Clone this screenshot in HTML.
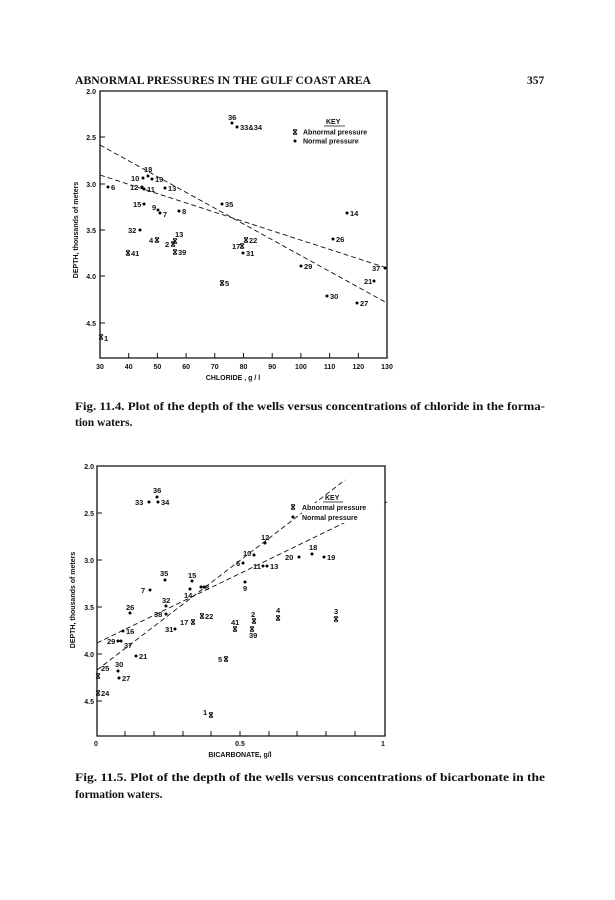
<!DOCTYPE html>
<html><head><meta charset="utf-8"><style>
html,body{margin:0;padding:0;background:#fff;}
svg{display:block;}
.s{font-family:"Liberation Sans",sans-serif;font-size:7.5px;fill:#111;font-weight:bold;}
.t{font-family:"Liberation Sans",sans-serif;font-size:7px;fill:#111;font-weight:bold;}
.f{font-family:"Liberation Serif",serif;font-size:11.5px;fill:#111;font-weight:bold;}
.ax{stroke:#111;stroke-width:1.3;fill:none;}
.d{stroke:#111;stroke-width:0.9;stroke-dasharray:5,3;fill:none;}
</style></head><body>
<svg width="615" height="900" viewBox="0 0 615 900" xmlns="http://www.w3.org/2000/svg">
<defs>
<g id="x"><path d="M-2,-2L2,2M2,-2L-2,2M-2,-2.2H2M-2,2.2H2" stroke="#111" stroke-width="1" fill="none"/></g>
</defs>
<text class="f" x="75" y="84" textLength="296" lengthAdjust="spacingAndGlyphs">ABNORMAL PRESSURES IN THE GULF COAST AREA</text>
<text class="f" x="527" y="84">357</text>

<!-- Chart 1 -->
<path class="ax" d="M100,91H387V358H100Z"/>
<g stroke="#111" stroke-width="1">
<path d="M100,137h5M100,184h5M100,230h5M100,276h5M100,323h5"/>
<path d="M128.7,358v-5M157.4,358v-5M186.1,358v-5M214.8,358v-5M243.5,358v-5M272.2,358v-5M300.9,358v-5M329.6,358v-5M358.3,358v-5"/>
</g>
<g class="t" text-anchor="end">
<text x="96" y="94">2.0</text><text x="96" y="140">2.5</text><text x="96" y="187">3.0</text>
<text x="96" y="233">3.5</text><text x="96" y="279">4.0</text><text x="96" y="326">4.5</text>
</g>
<g class="t" text-anchor="middle">
<text x="100" y="369">30</text><text x="128.7" y="369">40</text><text x="157.4" y="369">50</text>
<text x="186.1" y="369">60</text><text x="214.8" y="369">70</text><text x="243.5" y="369">80</text>
<text x="272.2" y="369">90</text><text x="300.9" y="369">100</text><text x="329.6" y="369">110</text>
<text x="358.3" y="369">120</text><text x="387" y="369">130</text>
<text x="233" y="380">CHLORIDE , g / l</text>
</g>
<text class="t" transform="translate(78,230) rotate(-90)" text-anchor="middle">DEPTH, thousands of meters</text>
<path class="d" d="M100,145L387,303"/>
<path class="d" d="M100,175L387,268"/>
<text class="t" x="326" y="124">KEY</text><path d="M324,126H345" stroke="#111" stroke-width="0.8"/>
<use href="#x" x="295" y="132"/><text class="t" x="303" y="134.5">Abnormal pressure</text>
<circle cx="295" cy="141" r="1.5"/><text class="t" x="303" y="143.5">Normal pressure</text>
<g>
<circle cx="232" cy="123" r="1.5"/><circle cx="237" cy="127" r="1.5"/>
<circle cx="148" cy="176" r="1.5"/><circle cx="143" cy="178" r="1.5"/><circle cx="152" cy="179" r="1.5"/>
<circle cx="108" cy="187" r="1.5"/><circle cx="142" cy="187" r="1.5"/><circle cx="144" cy="189" r="1.5"/>
<circle cx="165" cy="188" r="1.5"/><circle cx="144" cy="204" r="1.5"/><circle cx="158" cy="210" r="1.5"/>
<circle cx="160" cy="213" r="1.5"/><circle cx="179" cy="211" r="1.5"/><circle cx="222" cy="204" r="1.5"/>
<circle cx="347" cy="213" r="1.5"/><circle cx="140" cy="230" r="1.5"/><circle cx="243" cy="253" r="1.5"/>
<circle cx="333" cy="239" r="1.5"/><circle cx="301" cy="266" r="1.5"/><circle cx="385" cy="268" r="1.5"/>
<circle cx="374" cy="281" r="1.5"/><circle cx="327" cy="296" r="1.5"/><circle cx="357" cy="303" r="1.5"/>
</g>
<use href="#x" x="157" y="240"/><use href="#x" x="175" y="241"/><use href="#x" x="173" y="244"/>
<use href="#x" x="175" y="252"/><use href="#x" x="128" y="253"/><use href="#x" x="246" y="240"/>
<use href="#x" x="242" y="246"/><use href="#x" x="222" y="283"/><use href="#x" x="101" y="337"/>
<g class="s">
<text x="228" y="120">36</text><text x="240" y="130">33&amp;34</text>
<text x="144" y="172">18</text><text x="131" y="181">10</text><text x="155" y="182">19</text>
<text x="111" y="190">6</text><text x="130" y="190">12</text><text x="147" y="192">11</text>
<text x="168" y="191">13</text><text x="133" y="207">15</text><text x="152" y="210">9</text>
<text x="163" y="217">7</text><text x="182" y="214">8</text><text x="225" y="207">35</text>
<text x="350" y="216">14</text><text x="128" y="233">32</text><text x="149" y="243">4</text>
<text x="175" y="237">13</text><text x="165" y="247">2</text><text x="178" y="255">39</text>
<text x="131" y="256">41</text><text x="249" y="243">22</text><text x="232" y="249">17</text>
<text x="246" y="256">31</text><text x="336" y="242">26</text><text x="304" y="269">29</text>
<text x="372" y="271">37</text><text x="225" y="286">5</text><text x="364" y="284">21</text>
<text x="330" y="299">30</text><text x="360" y="306">27</text><text x="104" y="341">1</text>
</g>
<text class="f" x="75" y="410" textLength="470" lengthAdjust="spacingAndGlyphs">Fig. 11.4. Plot of the depth of the wells versus concentrations of chloride in the forma-</text>
<text class="f" x="75" y="426">tion waters.</text>

<!-- Chart 2 -->
<path class="ax" d="M97,466H385V736H97Z"/>
<g stroke="#111" stroke-width="1">
<path d="M97,513h5M97,560h5M97,607h5M97,654h5M97,701h5"/>
<path d="M125,736v-5M154,736v-5M183,736v-5M211,736v-5M240,736v-5M269,736v-5M297,736v-5M326,736v-5M355,736v-5"/>
</g>
<g class="t" text-anchor="end">
<text x="94" y="469">2.0</text><text x="94" y="516">2.5</text><text x="94" y="563">3.0</text>
<text x="94" y="610">3.5</text><text x="94" y="657">4.0</text><text x="94" y="704">4.5</text>
</g>
<g class="t" text-anchor="middle">
<text x="96" y="746">0</text><text x="240" y="746">0.5</text><text x="383" y="746">1</text>
<text x="240" y="757">BICARBONATE, g/l</text>
</g>
<text class="t" transform="translate(75,600) rotate(-90)" text-anchor="middle">DEPTH, thousands of meters</text>
<path class="d" d="M97,670L345,480"/>
<path class="d" d="M97,643L387,502"/>
<rect x="302" y="503" width="80" height="20" fill="#fff"/>
<text class="t" x="325" y="500">KEY</text><path d="M323,502H343" stroke="#111" stroke-width="0.8"/>
<use href="#x" x="293" y="507"/><text class="t" x="302" y="510">Abnormal pressure</text>
<circle cx="293" cy="517" r="1.5"/><text class="t" x="302" y="520">Normal pressure</text>
<g>
<circle cx="157" cy="497" r="1.5"/><circle cx="149" cy="502" r="1.5"/><circle cx="158" cy="502" r="1.5"/>
<circle cx="265" cy="543" r="1.5"/><circle cx="254" cy="555" r="1.5"/><circle cx="312" cy="554" r="1.5"/>
<circle cx="299" cy="557" r="1.5"/><circle cx="324" cy="557" r="1.5"/><circle cx="243" cy="563" r="1.5"/>
<circle cx="263" cy="566" r="1.5"/><circle cx="267" cy="566" r="1.5"/><circle cx="245" cy="582" r="1.5"/>
<circle cx="165" cy="580" r="1.5"/><circle cx="192" cy="581" r="1.5"/><circle cx="150" cy="590" r="1.5"/>
<circle cx="190" cy="589" r="1.5"/><circle cx="201" cy="587" r="1.5"/><circle cx="204" cy="587" r="1.5"/>
<circle cx="166" cy="606" r="1.5"/><circle cx="130" cy="613" r="1.5"/><circle cx="166" cy="614" r="1.5"/>
<circle cx="175" cy="629" r="1.5"/><circle cx="123" cy="631" r="1.5"/><circle cx="118" cy="641" r="1.5"/>
<circle cx="121" cy="641" r="1.5"/><circle cx="136" cy="656" r="1.5"/><circle cx="118" cy="671" r="1.5"/>
<circle cx="119" cy="678" r="1.5"/>
</g>
<use href="#x" x="193" y="622"/><use href="#x" x="202" y="616"/><use href="#x" x="235" y="629"/>
<use href="#x" x="254" y="621"/><use href="#x" x="252" y="629"/><use href="#x" x="278" y="618"/>
<use href="#x" x="336" y="619"/><use href="#x" x="226" y="659"/><use href="#x" x="98" y="676"/>
<use href="#x" x="98" y="693"/><use href="#x" x="211" y="715"/>
<g class="s">
<text x="153" y="493">36</text><text x="135" y="505">33</text><text x="161" y="505">34</text>
<text x="261" y="540">12</text><text x="243" y="556">10</text><text x="309" y="550">18</text>
<text x="285" y="560">20</text><text x="327" y="560">19</text><text x="236" y="566">6</text>
<text x="253" y="569">11</text><text x="270" y="569">13</text><text x="243" y="591">9</text>
<text x="160" y="576">35</text><text x="188" y="578">15</text><text x="141" y="593">7</text>
<text x="184" y="598">14</text><text x="205" y="590">8</text><text x="162" y="603">32</text>
<text x="126" y="610">26</text><text x="154" y="617">38</text><text x="180" y="625">17</text>
<text x="205" y="619">22</text><text x="165" y="632">31</text><text x="231" y="625">41</text>
<text x="251" y="617">2</text><text x="249" y="638">39</text><text x="276" y="613">4</text>
<text x="334" y="614">3</text><text x="126" y="634">16</text><text x="107" y="644">29</text>
<text x="124" y="648">37</text><text x="139" y="659">21</text><text x="218" y="662">5</text>
<text x="115" y="667">30</text><text x="101" y="671">25</text><text x="122" y="681">27</text>
<text x="101" y="696">24</text><text x="203" y="715">1</text>
</g>
<text class="f" x="75" y="781" textLength="470" lengthAdjust="spacingAndGlyphs">Fig. 11.5. Plot of the depth of the wells versus concentrations of bicarbonate in the</text>
<text class="f" x="75" y="798">formation waters.</text>
</svg>
</body></html>
